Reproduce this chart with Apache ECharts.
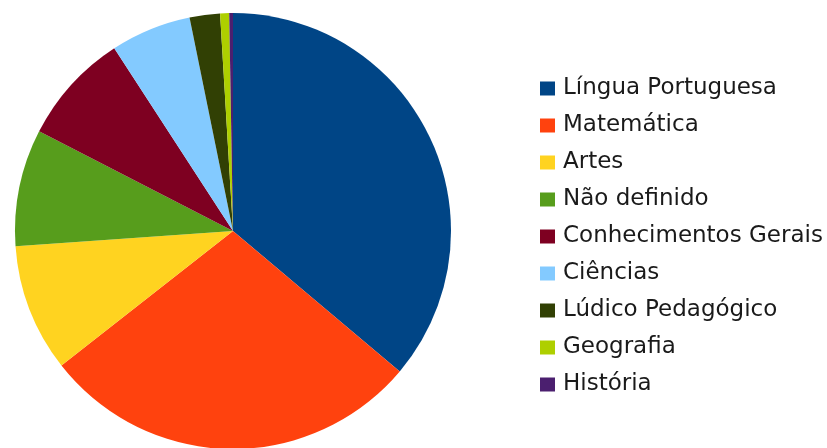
<!DOCTYPE html>
<html>
<head>
<meta charset="utf-8">
<script src="https://cdn.jsdelivr.net/npm/echarts@6/dist/echarts.min.js"></script>
<style>html,body{margin:0;padding:0;background:#fff}#c{width:827px;height:448px}</style>
</head>
<body>
<div id="c"></div>
<script>
const categories = ["Língua Portuguesa","Matemática","Artes","Não definido","Conhecimentos Gerais","Ciências","Lúdico Pedagógico","Geografia","História"];
const values = [130.1, 101.8, 34.1, 31.2, 29.8, 21.5, 8.1, 2.4, 1.0];
const colors = ["#004586","#ff420e","#ffd320","#579d1c","#7e0021","#83caff","#314004","#aecf00","#4b1f6f"];

const chart = echarts.init(document.getElementById('c'), null, {renderer:'canvas'});
chart.setOption({
  animation:false,
  color: colors,
  legend: {
    orient:'vertical', left:540, top:77, padding:0,
    itemWidth:15, itemHeight:14, itemGap:14, itemStyle:{borderWidth:0},
    icon:'rect',
    data: categories,
    textStyle:{fontFamily:'DejaVu Sans', fontSize:23, color:'#1a1a1a', lineHeight:23, padding:[0,0,0,3]}
  },
  series:[{
    type:'pie', center:[233,231], radius:218, startAngle:90, clockwise:true,
    label:{show:false}, labelLine:{show:false}, emphasis:{disabled:true},
    itemStyle:{borderWidth:0},
    data: categories.map((n,i)=>({name:n, value:values[i]}))
  }]
});
</script>
</body>
</html>
